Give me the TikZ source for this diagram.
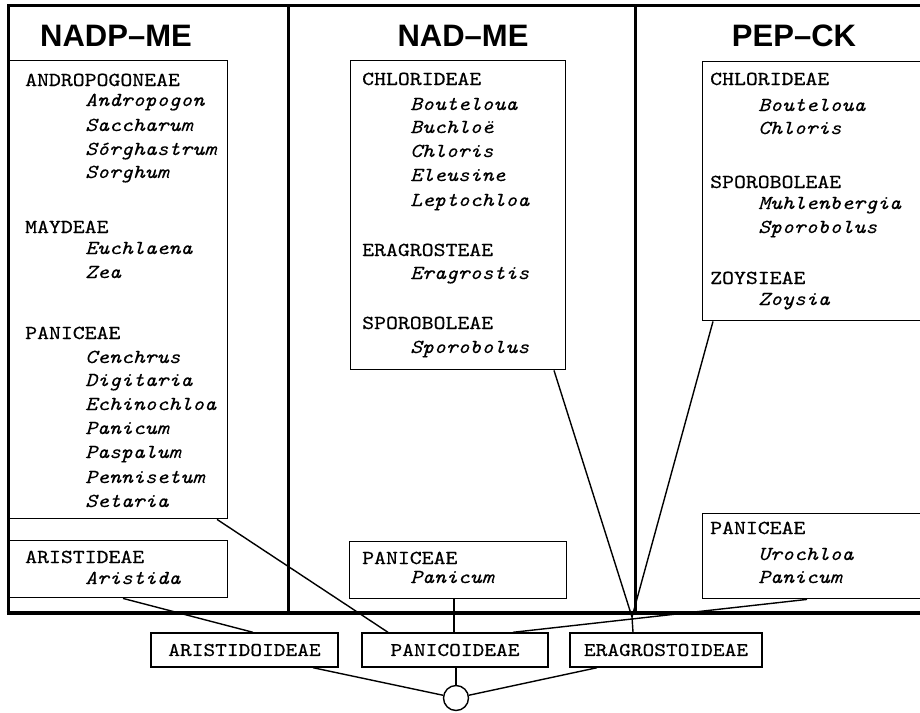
\documentclass[tikz,border=0pt]{standalone}
\usepackage{fontspec}
\newfontfamily\gmono[FakeStretch=1.145, FakeBold=0.5, ItalicFont=lmmono10-italic.otf, ItalicFeatures={FakeBold=0.15}]{lmmono10-regular.otf}
\newfontfamily\gsans{Liberation Sans}
\tikzset{
  frameline/.style={line width=3pt},
  gbox/.style={draw, line width=1.4pt, inner sep=0pt, anchor=north west},
  subbox/.style={draw, line width=1.4pt, inner sep=0pt, font=\gmono\fontsize{19.5}{20}\selectfont},
  hdr/.style={font=\gmono\fontsize{19.8}{20}\selectfont, anchor=base west, inner sep=0pt},
  gen/.style={font=\gmono\fontsize{19.8}{20}\selectfont\itshape, anchor=base west, inner sep=0pt},
  ttl/.style={font=\gsans\bfseries\fontsize{31}{31}\selectfont, inner sep=0pt},
  link/.style={line width=1.4pt},
}
\newcommand\HdL[4]{\node[hdr] (#1) at (#2,#3) {#4};}
\newcommand\GnL[4]{\node[gen] (#1) at (#2,#3) {#4};}
\begin{document}
\begin{tikzpicture}[x=1pt,y=-1pt]
\useasboundingbox[fill=white] (0,0) rectangle (920,712);
% frame
\draw[frameline] (922,5) -- (8,5) -- (8,613);
\draw[line width=4pt] (6.5,613) -- (922,613);
\draw[frameline] (288,5) -- (288,613);
\draw[frameline] (635,5) -- (635,613);
% titles
\node[ttl] (tnadp) at (116,36) {NADP–ME};
\node[ttl] (tnad) at (463,36) {NAD–ME};
\node[ttl] (tpep) at (794,36) {PEP–CK};
% boxes
\node[gbox, minimum width=219pt, minimum height=458pt] (nadp) at (8,60) {};
\node[gbox, minimum width=219pt, minimum height=57pt] (arb) at (8,540) {};
\node[gbox, minimum width=215pt, minimum height=309pt] (nadtop) at (350,60) {};
\node[gbox, minimum width=217pt, minimum height=57pt] (nadpan) at (349,541) {};
\node[gbox, minimum width=222pt, minimum height=259pt] (peptop) at (702,61) {};
\node[gbox, minimum width=222pt, minimum height=85pt] (pepan) at (702,513) {};
% NADP-ME texts
\HdL{a1}{25}{86}{ANDROPOGONEAE}
\GnL{a2}{85}{106}{Andropogon}
\GnL{a3}{85}{131}{Saccharum}
\GnL{a4}{85}{155}{Sórghastrum}
\GnL{a5}{85}{178}{Sorghum}
\HdL{a6}{25}{233}{MAYDEAE}
\GnL{a7}{85}{254}{Euchlaena}
\GnL{a8}{85}{278}{Zea}
\HdL{a9}{25}{339}{PANICEAE}
\GnL{a10}{85}{363}{Cenchrus}
\GnL{a11}{85}{386}{Digitaria}
\GnL{a12}{85}{410}{Echinochloa}
\GnL{a13}{85}{434}{Panicum}
\GnL{a14}{85}{458}{Paspalum}
\GnL{a15}{85}{483}{Pennisetum}
\GnL{a16}{85}{507}{Setaria}
\HdL{a17}{25}{563}{ARISTIDEAE}
\GnL{a18}{85}{584}{Aristida}
% NAD-ME texts
\HdL{b1}{362}{85}{CHLORIDEAE}
\GnL{b2}{410}{110}{Bouteloua}
\GnL{b3}{410}{133}{Buchloë}
\GnL{b4}{410}{157}{Chloris}
\GnL{b5}{410}{181}{Eleusine}
\GnL{b6}{410}{206}{Leptochloa}
\HdL{b7}{362}{256}{ERAGROSTEAE}
\GnL{b8}{410}{279}{Eragrostis}
\HdL{b9}{362}{329}{SPOROBOLEAE}
\GnL{b10}{410}{353}{Sporobolus}
\HdL{b11}{362}{564}{PANICEAE}
\GnL{b12}{410}{583}{Panicum}
% PEP-CK texts
\HdL{c1}{710}{85}{CHLORIDEAE}
\GnL{c2}{758}{111}{Bouteloua}
\GnL{c3}{758}{134}{Chloris}
\HdL{c4}{710}{188}{SPOROBOLEAE}
\GnL{c5}{758}{209}{Muhlenbergia}
\GnL{c6}{758}{233}{Sporobolus}
\HdL{c7}{710}{284}{ZOYSIEAE}
\GnL{c8}{758}{305}{Zoysia}
\HdL{c9}{710}{534}{PANICEAE}
\GnL{c10}{758}{560}{Urochloa}
\GnL{c11}{758}{583}{Panicum}
% subfamilies
\node[subbox, minimum width=187pt, minimum height=34pt] (aro) at (244.5,650) {ARISTIDOIDEAE};
\node[subbox, minimum width=186pt, minimum height=34pt] (pano) at (455,650) {PANICOIDEAE};
\node[subbox, minimum width=192pt, minimum height=34pt] (era) at (666,650) {ERAGROSTOIDEAE};
\node[draw, circle, line width=1.4pt, minimum size=25pt, inner sep=0pt] (root) at (456,698) {};
\coordinate (P) at (632,617);
% connectors
\draw[link] (arb.south -| 123,0) -- (aro.north -| 253,0);
\draw[link] (nadp.south -| 217,0) -- (pano.north -| 388,0);
\draw[link] (nadpan.south -| 454,0) -- (pano.north -| 454,0);
\draw[link] (pepan.south -| 807,0) -- (pano.north -| 513,0);
\draw[link] (nadtop.south -| 554,0) -- (P);
\draw[link] (peptop.south -| 713,0) -- (P);
\draw[link] (P) -- (era.north -| 633,0);
\draw[link] (aro.south -| 313,0) -- (root);
\draw[link] (pano.south -| root.north) -- (root.north);
\draw[link] (era.south -| 597,0) -- (root);
\end{tikzpicture}
\end{document}
